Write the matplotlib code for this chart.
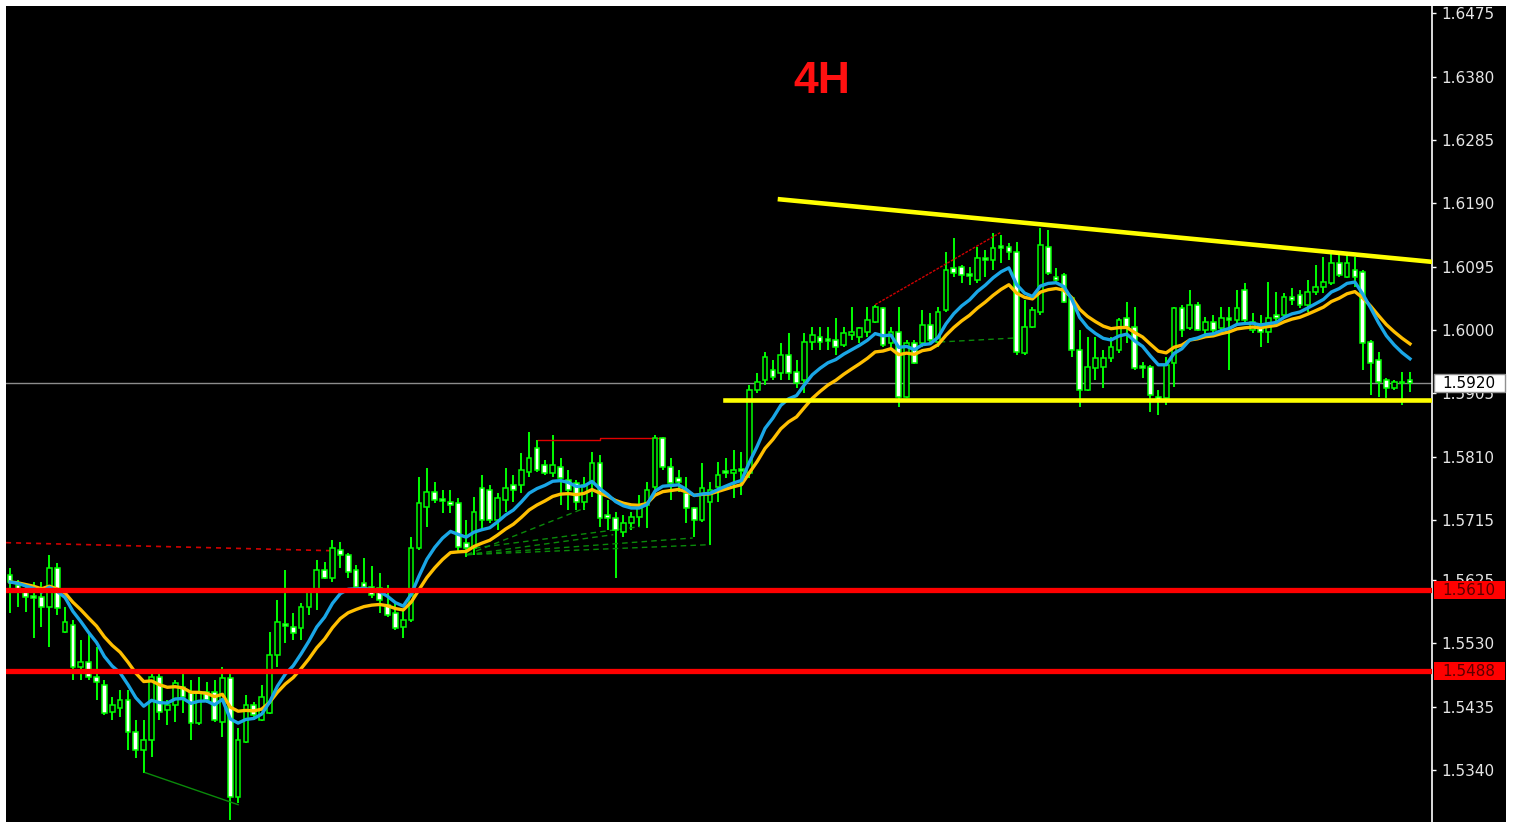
import matplotlib
matplotlib.use('Agg')
import matplotlib.pyplot as plt
from matplotlib.patches import Rectangle
from matplotlib.transforms import blended_transform_factory
import numpy as np
import pandas as pd

# 4H candles (left to right)
opens = [1.5632, 1.5618, 1.5610, 1.5601, 1.5600, 1.5585, 1.5643, 1.5547, 1.5558, 1.5495,
         1.5502, 1.5480, 1.5468, 1.5427, 1.5433, 1.5445, 1.5397, 1.5370, 1.5385, 1.5480,
         1.5430, 1.5438, 1.5465, 1.5456, 1.5411, 1.5457, 1.5457, 1.5412, 1.5478, 1.5300,
         1.5382, 1.5438, 1.5415, 1.5426, 1.5513, 1.5559, 1.5555, 1.5553, 1.5585, 1.5610,
         1.5640, 1.5628, 1.5670, 1.5663, 1.5640, 1.5621, 1.5615, 1.5613, 1.5588, 1.5576,
         1.5555, 1.5565, 1.5673, 1.5735, 1.5757, 1.5747, 1.5742, 1.5741, 1.5681, 1.5673,
         1.5763, 1.5760, 1.5715, 1.5745, 1.5768, 1.5768, 1.5787, 1.5823, 1.5798, 1.5786,
         1.5795, 1.5775, 1.5771, 1.5742, 1.5771, 1.5801, 1.5723, 1.5718, 1.5697, 1.5711,
         1.5720, 1.5738, 1.5765, 1.5838, 1.5795, 1.5778, 1.5756, 1.5733, 1.5715, 1.5742,
         1.5765, 1.5789, 1.5786, 1.5792, 1.5786, 1.5910, 1.5925, 1.5940, 1.5936, 1.5963,
         1.5937, 1.5925, 1.5982, 1.5990, 1.5987, 1.5985, 1.5978, 1.5993, 1.5990, 1.5997,
         1.6012, 1.6033, 1.5981, 1.5997, 1.5900, 1.5981, 1.5981, 1.6008, 1.5982, 1.6030,
         1.6093, 1.6095, 1.6084, 1.6075, 1.6108, 1.6105, 1.6126, 1.6125, 1.6117, 1.5966,
         1.6005, 1.6027, 1.6125, 1.6080, 1.6083, 1.6048, 1.5970, 1.5910, 1.5943, 1.5945,
         1.5958, 1.5970, 1.6018, 1.6005, 1.5946, 1.5945, 1.5900, 1.5898, 1.5950, 1.6033,
         1.6003, 1.6038, 1.6000, 1.6012, 1.6003, 1.6018, 1.6015, 1.6060, 1.6000, 1.6008,
         1.5997, 1.6023, 1.6023, 1.6050, 1.6053, 1.6038, 1.6057, 1.6065, 1.6071, 1.6101,
         1.6080, 1.6090, 1.6087, 1.5982, 1.5955, 1.5925, 1.5913, 1.5922, 1.5925]
highs = [1.5643, 1.5625, 1.5615, 1.5622, 1.5622, 1.5663, 1.5651, 1.5585, 1.5565, 1.5535,
         1.5546, 1.5525, 1.5475, 1.5450, 1.5460, 1.5460, 1.5415, 1.5415, 1.5490, 1.5487,
         1.5445, 1.5475, 1.5490, 1.5475, 1.5480, 1.5472, 1.5475, 1.5495, 1.5487, 1.5403,
         1.5453, 1.5442, 1.5468, 1.5547, 1.5595, 1.5640, 1.5576, 1.5591, 1.5613, 1.5655,
         1.5652, 1.5685, 1.5682, 1.5666, 1.5648, 1.5658, 1.5646, 1.5636, 1.5618, 1.5592,
         1.5580, 1.5690, 1.5780, 1.5793, 1.5772, 1.5760, 1.5760, 1.5748, 1.5715, 1.5750,
         1.5783, 1.5768, 1.5756, 1.5793, 1.5783, 1.5816, 1.5847, 1.5835, 1.5805, 1.5843,
         1.5808, 1.5790, 1.5775, 1.5780, 1.5817, 1.5813, 1.5745, 1.5727, 1.5723, 1.5727,
         1.5753, 1.5772, 1.5843, 1.5840, 1.5808, 1.5790, 1.5780, 1.5735, 1.5801, 1.5772,
         1.5802, 1.5808, 1.5820, 1.5817, 1.5918, 1.5936, 1.5967, 1.5955, 1.5981, 1.5996,
         1.5955, 1.5996, 1.6005, 1.6005, 1.6005, 1.6018, 1.6005, 1.6035, 1.6005, 1.6035,
         1.6038, 1.6035, 1.6005, 1.6035, 1.5985, 1.5985, 1.6030, 1.6026, 1.6035, 1.6117,
         1.6138, 1.6098, 1.6095, 1.6125, 1.6120, 1.6146, 1.6143, 1.6131, 1.6132, 1.6045,
         1.6035, 1.6153, 1.6150, 1.6093, 1.6086, 1.6050, 1.6000, 1.5990, 1.5990, 1.5970,
         1.5990, 1.6018, 1.6042, 1.6035, 1.5952, 1.5948, 1.5910, 1.5960, 1.6035, 1.6038,
         1.6060, 1.6042, 1.6020, 1.6023, 1.6035, 1.6035, 1.6060, 1.6071, 1.6026, 1.6023,
         1.6072, 1.6057, 1.6056, 1.6063, 1.6060, 1.6075, 1.6098, 1.6110, 1.6116, 1.6113,
         1.6113, 1.6110, 1.6090, 1.5985, 1.5967, 1.5928, 1.5925, 1.5937, 1.5937]
lows = [1.5576, 1.5585, 1.5577, 1.5538, 1.5555, 1.5525, 1.5573, 1.5546, 1.5475, 1.5475,
        1.5475, 1.5445, 1.5423, 1.5415, 1.5420, 1.5370, 1.5358, 1.5336, 1.5360, 1.5415,
        1.5408, 1.5412, 1.5426, 1.5385, 1.5408, 1.5441, 1.5412, 1.5390, 1.5265, 1.5291,
        1.5381, 1.5415, 1.5413, 1.5424, 1.5495, 1.5531, 1.5535, 1.5535, 1.5573, 1.5580,
        1.5626, 1.5622, 1.5643, 1.5628, 1.5610, 1.5613, 1.5598, 1.5576, 1.5570, 1.5550,
        1.5538, 1.5562, 1.5670, 1.5705, 1.5741, 1.5726, 1.5726, 1.5666, 1.5660, 1.5663,
        1.5700, 1.5711, 1.5700, 1.5727, 1.5742, 1.5756, 1.5780, 1.5787, 1.5783, 1.5780,
        1.5738, 1.5730, 1.5730, 1.5730, 1.5750, 1.5705, 1.5700, 1.5628, 1.5690, 1.5700,
        1.5705, 1.5703, 1.5753, 1.5790, 1.5745, 1.5757, 1.5711, 1.5690, 1.5712, 1.5678,
        1.5742, 1.5778, 1.5748, 1.5753, 1.5778, 1.5906, 1.5918, 1.5925, 1.5925, 1.5925,
        1.5913, 1.5906, 1.5970, 1.5970, 1.5970, 1.5963, 1.5975, 1.5985, 1.5981, 1.5990,
        1.6011, 1.5975, 1.5975, 1.5885, 1.5898, 1.5949, 1.5975, 1.5978, 1.5975, 1.6027,
        1.6080, 1.6071, 1.6068, 1.6071, 1.6080, 1.6090, 1.6101, 1.6105, 1.5963, 1.5963,
        1.6003, 1.6023, 1.6083, 1.6071, 1.6041, 1.5960, 1.5885, 1.5908, 1.5925, 1.5913,
        1.5952, 1.5966, 1.5981, 1.5940, 1.5928, 1.5877, 1.5873, 1.5888, 1.5915, 1.5990,
        1.6000, 1.5998, 1.5990, 1.5993, 1.6000, 1.5940, 1.6011, 1.6012, 1.5996, 1.5975,
        1.5981, 1.6011, 1.6020, 1.6038, 1.6033, 1.6027, 1.6053, 1.6056, 1.6068, 1.6080,
        1.6078, 1.6065, 1.5940, 1.5903, 1.5900, 1.5898, 1.5910, 1.5888, 1.5907]
closes = [1.5622, 1.5612, 1.5600, 1.5598, 1.5585, 1.5643, 1.5583, 1.5562, 1.5495, 1.5502,
          1.5480, 1.5472, 1.5426, 1.5438, 1.5445, 1.5397, 1.5370, 1.5385, 1.5480, 1.5427,
          1.5438, 1.5471, 1.5450, 1.5411, 1.5456, 1.5445, 1.5415, 1.5478, 1.5300, 1.5385,
          1.5438, 1.5423, 1.5450, 1.5513, 1.5562, 1.5556, 1.5546, 1.5585, 1.5610, 1.5640,
          1.5628, 1.5673, 1.5663, 1.5637, 1.5615, 1.5615, 1.5603, 1.5595, 1.5573, 1.5553,
          1.5565, 1.5673, 1.5741, 1.5757, 1.5745, 1.5744, 1.5738, 1.5675, 1.5673, 1.5727,
          1.5715, 1.5715, 1.5748, 1.5763, 1.5760, 1.5790, 1.5808, 1.5790, 1.5786, 1.5798,
          1.5778, 1.5760, 1.5742, 1.5768, 1.5801, 1.5718, 1.5718, 1.5700, 1.5711, 1.5720,
          1.5733, 1.5760, 1.5838, 1.5795, 1.5771, 1.5772, 1.5733, 1.5715, 1.5763, 1.5760,
          1.5783, 1.5786, 1.5790, 1.5789, 1.5910, 1.5922, 1.5960, 1.5930, 1.5963, 1.5936,
          1.5921, 1.5982, 1.5993, 1.5982, 1.5984, 1.5975, 1.5996, 1.5997, 1.6003, 1.6015,
          1.6035, 1.5978, 1.5997, 1.5900, 1.5981, 1.5951, 1.6008, 1.5985, 1.6027, 1.6090,
          1.6086, 1.6083, 1.6081, 1.6108, 1.6105, 1.6123, 1.6123, 1.6117, 1.5967, 1.6005,
          1.6030, 1.6128, 1.6086, 1.6075, 1.6042, 1.5970, 1.5910, 1.5945, 1.5958, 1.5958,
          1.5975, 1.6015, 1.6005, 1.5943, 1.5943, 1.5903, 1.5895, 1.5948, 1.6033, 1.6000,
          1.6038, 1.6000, 1.6012, 1.6000, 1.6018, 1.6015, 1.6033, 1.6015, 1.6012, 1.5997,
          1.6018, 1.6018, 1.6050, 1.6045, 1.6038, 1.6057, 1.6065, 1.6072, 1.6101, 1.6083,
          1.6101, 1.6080, 1.5981, 1.5951, 1.5922, 1.5913, 1.5922, 1.5920, 1.5920]

# price scale on the right
tick_prices = [1.6475, 1.6380, 1.6285, 1.6190, 1.6095, 1.6000, 1.5905,
               1.5810, 1.5715, 1.5625, 1.5530, 1.5435, 1.5340]
bid_price = 1.5920
red_levels = [1.5610, 1.5488]

# drawn objects: bar index / price pairs
support_x, support_y = [90.9, 181.0], [1.5895, 1.5895]
trend_x, trend_y = [97.9, 181.0], [1.6196, 1.6102]
red_dash_x, red_dash_y = [-0.5, 40.7], [1.5681, 1.5669]
red_top_x, red_top_y = [67.1, 75.0, 75.0, 83.3], [1.5835, 1.5835, 1.5838, 1.5838]
red_diag_x, red_diag_y = [110.0, 125.9], [1.6038, 1.6146]
green_low_x, green_low_y = [17.2, 29.0], [1.5336, 1.5288]
green_fan = [([58.1, 73.1], [1.5663, 1.5733]),
             ([58.1, 76.7], [1.5663, 1.5693]),
             ([58.1, 86.8], [1.5663, 1.5688]),
             ([58.1, 89.0], [1.5663, 1.5678]),
             ([59.1, 80.1], [1.5673, 1.5705]),
             ([118.2, 127.8], [1.5982, 1.5988])]

W, H = 1518, 825
fig = plt.figure(figsize=(W / 100, H / 100), dpi=100, facecolor='white')
fig.patches.append(Rectangle((6 / W, 3 / H), 1500 / W, 816 / H,
                             transform=fig.transFigure, facecolor='black',
                             edgecolor='none', zorder=-5))
ax = fig.add_axes([6 / W, 3 / H, 1426 / W, 816 / H])
ax.set_facecolor('black')

o = np.array(opens)
h = np.array(highs)
l = np.array(lows)
c = np.array(closes)
x = np.arange(len(o))

# moving averages
s = pd.Series(c)
ma_fast = s.ewm(span=9, adjust=False).mean()
ma_slow = s.ewm(span=15, adjust=False).mean()

# candles
ax.vlines(x, l, h, color='#00ff00', linewidth=1.4, zorder=2)
bull = c >= o
body_bot = np.minimum(o, c)
body_h = np.maximum(np.abs(c - o), 0.00012)
ax.bar(x, body_h, bottom=body_bot, width=0.6,
       color=np.where(bull, 'black', 'white'), edgecolor='#00ff00',
       linewidth=1.1, zorder=3)

ax.plot(x, ma_slow, color='#ffbf00', linewidth=2.4, zorder=4)
ax.plot(x, ma_fast, color='#1aa6e6', linewidth=2.4, zorder=5)

# levels and trendlines
ax.axhline(bid_price, color='#8c8c8c', linewidth=1.0, zorder=1)
for lv in red_levels:
    ax.axhline(lv, color='#ff0000', linewidth=3.8, zorder=6)
ax.plot(support_x, support_y, color='#ffff00', linewidth=3.3, zorder=6)
ax.plot(trend_x, trend_y, color='#ffff00', linewidth=3.3, zorder=6)
ax.plot(red_dash_x, red_dash_y, color='#d00000', linewidth=1.2,
        linestyle=(0, (3, 3)), zorder=2)
ax.plot(red_top_x, red_top_y, color='#e00000', linewidth=1.0, zorder=2)
ax.plot(red_diag_x, red_diag_y, color='#d00000', linewidth=1.0,
        linestyle=(0, (2, 1)), zorder=2)
ax.plot(green_low_x, green_low_y, color='#0a8a0a', linewidth=1.0, zorder=2)
for fx, fy in green_fan:
    ax.plot(fx, fy, color='#0a8a0a', linewidth=1.0, linestyle=(0, (4, 3)), zorder=2)

ax.text(0.572, 0.907, '4H', transform=ax.transAxes, color='#ff1010',
        fontsize=32, fontweight='bold', family='Liberation Sans',
        ha='center', va='center')

ax.set_xlim(-0.51, 180.8)
ax.set_ylim(1.5262, 1.6486)

# axis styling (MT4-like)
for side in ['left', 'top', 'bottom']:
    ax.spines[side].set_visible(False)
ax.spines['right'].set_color('white')
ax.spines['right'].set_linewidth(1.2)
ax.set_xticks([])
ax.yaxis.tick_right()
ax.set_yticks(tick_prices)
ax.set_yticklabels(['%.4f' % t for t in tick_prices])
ax.tick_params(axis='y', colors='white', labelcolor='#e6e6e6', length=3,
               width=1, pad=4, labelsize=11)

# price label boxes on the right scale
tr = blended_transform_factory(ax.transAxes, ax.transData)
box_w = 71 / 1426
box_h = 0.0027
ax.add_patch(Rectangle((1.0015, bid_price - box_h / 2), box_w, box_h, transform=tr,
                       facecolor='white', edgecolor='#909090', linewidth=1,
                       clip_on=False, zorder=9))
ax.text(1.0075, bid_price, '%.4f' % bid_price, transform=tr, ha='left',
        va='center', fontsize=11, color='black', clip_on=False, zorder=10)
for lv in red_levels:
    ax.add_patch(Rectangle((1.0015, lv - box_h / 2), box_w, box_h, transform=tr,
                           facecolor='#ff0000', edgecolor='none',
                           clip_on=False, zorder=9))
    ax.text(1.0075, lv, '%.4f' % lv, transform=tr, ha='left', va='center',
            fontsize=11, color='#5a0000', clip_on=False, zorder=10)

fig.savefig('out.png', dpi=100, facecolor='white')
